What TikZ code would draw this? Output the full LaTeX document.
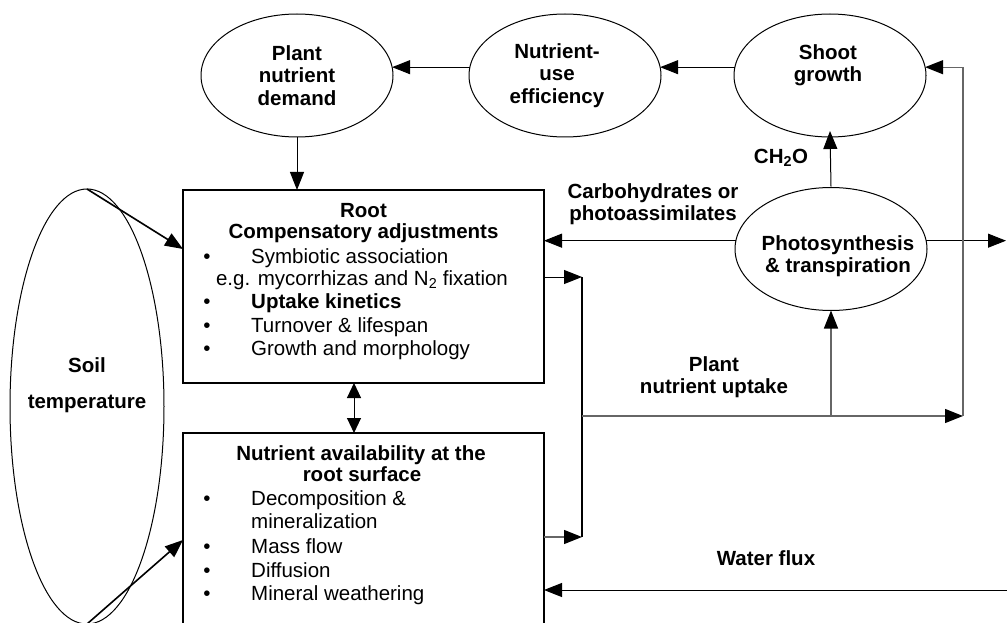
\documentclass[tikz,border=0pt]{standalone}
\usepackage{fontspec}
\setmainfont{Liberation Sans}
\usetikzlibrary{arrows.meta,shapes.geometric}
\begin{document}
\begin{tikzpicture}[x=1pt,y=-1pt,
  ell/.style={draw, ellipse, line width=1pt, inner sep=0pt, outer sep=0pt,
    minimum width=192pt, minimum height=123pt},
  lab/.style={inner sep=0pt, align=center, font=\fontsize{20.5}{22.5}\selectfont\bfseries},
  box/.style={draw, rectangle, line width=1.2pt, inner sep=0pt, outer sep=0pt, minimum width=361pt},
  txt/.style={inner sep=0pt, text height=14pt, text depth=4pt, font=\fontsize{20.5}{22.5}\selectfont},
  hd/.style={txt, font=\fontsize{20.5}{22.5}\selectfont\bfseries},
  bul/.style={txt, anchor=center},
  item/.style={txt, anchor=west},
  arr/.style={line width=1pt, -{Triangle[length=18pt,width=14pt,color=black]}},
  dblarr/.style={line width=1pt, {Triangle[length=15pt,width=14pt]}-{Triangle[length=15pt,width=14pt]}},
  conn/.style={line width=1pt},
  grayline/.style={draw=black!60, line width=1.3pt}
]
\useasboundingbox (0,0) rectangle (1007,623);
\clip (0,0) rectangle (1007,623);

% ellipses
\node[ell] (pnd) at (297,75.5) {};
\node[ell] (nue) at (565,75.5) {};
\node[ell] (shoot) at (830,75.5) {};
\node[ell] (phot) at (831,249) {};
\node[draw, ellipse, line width=1pt, inner sep=0pt, outer sep=0pt,
  minimum width=154pt, minimum height=435pt] (soil) at (87,406.5) {};

\node[lab] (pndt) at (297,75.5) {Plant\\nutrient\\demand};
\node[lab] (nuet) at (557,75.5) {Nutrient-\\use\\efficiency};
\node[lab] (shoott) at (828,65) {Shoot\\growth};
\node[lab] (phott) at (838,256) {Photosynthesis\\\& transpiration};
\node[lab] (soilt) at (87,365) {Soil};
\node[lab] (tempt) at (87,404) {temperature};

% boxes
\node[box, minimum height=193pt] (root) at (363.5,286.5) {};
\node[box, minimum height=217pt] (nut) at (363.5,541.5) {};

% root box text
\node[hd] (r1) at (363.5,212) {Root};
\node[hd] (r2) at (363.5,233) {Compensatory adjustments};
\node[bul] (b1) at (207,258) {•};
\node[item] (r3) at (251,258) {Symbiotic association};
\node[txt] (r4) at (362,280) {e.g. mycorrhizas and N\textsubscript{2} fixation};
\node[bul] (b2) at (207,303) {•};
\node[item, font=\fontsize{20.5}{22.5}\selectfont\bfseries] (r5) at (251,303) {Uptake kinetics};
\node[bul] (b3) at (207,327) {•};
\node[item] (r6) at (251,327) {Turnover \& lifespan};
\node[bul] (b4) at (207,350) {•};
\node[item] (r7) at (251,350) {Growth and morphology};

% nutrient box text
\node[hd] (n1) at (361,455) {Nutrient availability at the};
\node[hd] (n2) at (362,476) {root surface};
\node[bul] (b5) at (207,500) {•};
\node[item] (n3) at (251,500) {Decomposition \&};
\node[item] (n4) at (251,523) {mineralization};
\node[bul] (b6) at (207,548) {•};
\node[item] (n5) at (251,548) {Mass flow};
\node[bul] (b7) at (207,572) {•};
\node[item] (n6) at (251,572) {Diffusion};
\node[bul] (b8) at (207,595) {•};
\node[item] (n7) at (251,595) {Mineral weathering};

% free labels
\node[lab] (carb) at (653,204) {Carbohydrates or\\photoassimilates};
\node[lab] (ch2o) at (781,158) {CH\textsubscript{2}O};
\node[lab] (upt) at (714,377) {Plant\\nutrient uptake};
\node[lab] (wfl) at (766,558) {Water flux};

% coordinates
\coordinate (c1) at (582,277);
\coordinate (c2) at (582,537);
\coordinate (c3) at (582,416);
\coordinate (c4) at (963,416);
\coordinate (s1) at (0,249);
\coordinate (s2) at (0,540);
\coordinate (out) at (1006,0);
\coordinate (wf) at (1007,590);

% connectors
\draw[arr] (nue.175) -- (pnd.5);
\draw[arr] (shoot.175) -- (nue.5);
\draw[arr] (pnd.south) -- (pnd.south |- root.north);
\draw[arr] ([yshift=1pt]phot.north) -- ([yshift=6pt]shoot.south);
\draw[arr] (phot.175) -- (phot.175 -| root.east);
\draw[arr] (phot.5) -- (phot.5 -| out);
\draw[dblarr] ([xshift=-9.5pt]root.south) -- ([xshift=-9.5pt]nut.north);
\draw[arr] (c1 -| root.east) -- (c1);
\draw[conn, line width=1.3pt] (c1) -- (c2);
\draw[arr, grayline] (c2 -| nut.east) -- (c2);
\draw[arr, grayline] (c3) -- (c4);
\draw[arr, grayline] (c4) |- (shoot.5);
\draw[arr, grayline] (phot.south |- c3) -- (phot.south);
\draw[arr] (wf) -- (wf -| nut.east);
\draw[arr, line width=1.6pt] (soil.north) -- (s1 -| root.west);
\draw[arr, line width=1.6pt] (soil.south) -- (s2 -| nut.west);
\end{tikzpicture}
\end{document}
